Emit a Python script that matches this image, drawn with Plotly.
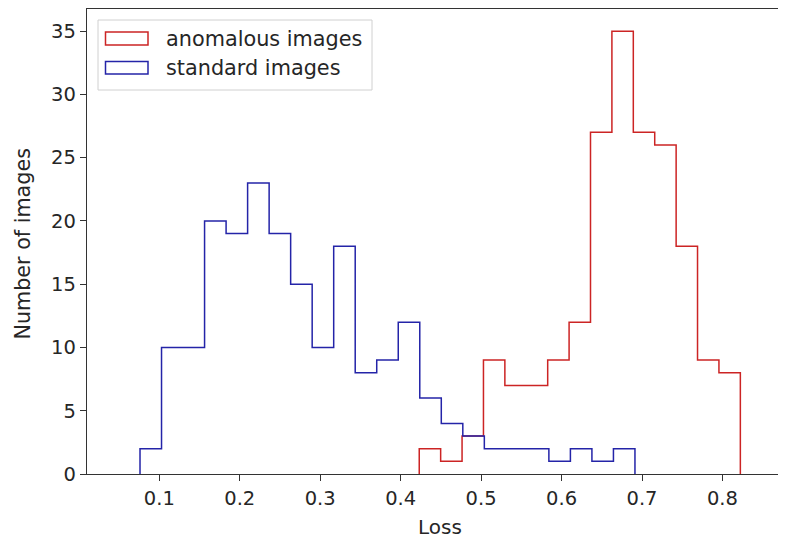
import plotly.graph_objects as go

# ---- data ----
red_label = "anomalous images"
red_counts = [2, 1, 3, 9, 7, 7, 9, 12, 27, 35, 27, 26, 18, 9, 8]
red_start = 0.4231
red_width = 0.02661

blue_label = "standard images"
blue_counts = [2, 10, 10, 20, 19, 23, 19, 15, 10, 18, 8, 9, 12, 6, 4, 3, 2, 2, 2, 1, 2, 1, 2]
blue_start = 0.0760
blue_width = 0.02675

x_ticks = [0.1, 0.2, 0.3, 0.4, 0.5, 0.6, 0.7, 0.8]
y_ticks = [0, 5, 10, 15, 20, 25, 30, 35]
x_title = "Loss"
y_title = "Number of images"

RED = "#cc2424"
BLUE = "#2424a8"
FONT = "DejaVu Sans"
TXT = "#262626"


def step_outline(start, width, counts):
    edges = [start + width * i for i in range(len(counts) + 1)]
    xs = [edges[0]] + edges[:len(counts)] + [edges[-1]]
    ys = [0] + list(counts) + [0]
    return xs, ys


fig = go.Figure()
for start, width, counts, color, name in [
    (red_start, red_width, red_counts, RED, red_label),
    (blue_start, blue_width, blue_counts, BLUE, blue_label),
]:
    xs, ys = step_outline(start, width, counts)
    fig.add_trace(go.Scatter(x=xs, y=ys, mode="lines", name=name,
                             line=dict(color=color, width=1.5, shape="hv"),
                             showlegend=False, hoverinfo="skip"))

# The page body has an 8px margin, so the figure is made 8px smaller on
# each axis and everything is placed relative to the window (reference) pixels.
OFF = 8
WIN_W, WIN_H = 786, 541
W, H = WIN_W - OFF, WIN_H - OFF
# plot area in window pixels
PX_L, PX_R, PX_T, PX_B = 87, 786, 9, 474
L, R, T, B = PX_L - OFF, WIN_W - PX_R, PX_T - OFF, WIN_H - PX_B
pw, ph = PX_R - PX_L, PX_B - PX_T


def px2x(px):
    return (px - PX_L) / pw


def px2y(py):
    return (PX_B - py) / ph


axis_common = dict(showline=True, linecolor="#333333", linewidth=1.3,
                   ticks="outside", ticklen=6, tickwidth=1.3, tickcolor="#333333",
                   showgrid=False, zeroline=False, automargin=False,
                   tickfont=dict(family=FONT, size=19.5, color=TXT))

fig.update_layout(
    width=W, height=H,
    margin=dict(l=L, r=R, t=T, b=B, autoexpand=False),
    plot_bgcolor="white", paper_bgcolor="white",
    showlegend=False,
    xaxis=dict(range=[0.0101, 0.879], tickvals=x_ticks, tickformat=".1f",
               mirror=True, **axis_common),
    yaxis=dict(range=[0, 36.75], tickvals=y_ticks, **axis_common),
)

# axis titles
fig.add_annotation(text=x_title, xref="paper", yref="paper",
                   x=px2x(439.5), y=px2y(527), xanchor="center", yanchor="middle",
                   showarrow=False, font=dict(family=FONT, size=20, color=TXT))
fig.add_annotation(text=y_title, xref="paper", yref="paper", textangle=-90,
                   x=px2x(22.5), y=px2y(244), xanchor="center", yanchor="middle",
                   showarrow=False, font=dict(family=FONT, size=20.7, color=TXT))

# ---- legend drawn like matplotlib's (frame, outlined patches, labels) ----
shapes = [
    dict(type="rect", xref="paper", yref="paper",
         x0=px2x(98), x1=px2x(372), y0=px2y(90), y1=px2y(20),
         line=dict(color="#d0d0d0", width=1), fillcolor="rgba(255,255,255,0.8)",
         layer="above"),
    dict(type="rect", xref="paper", yref="paper",
         x0=px2x(105.5), x1=px2x(148), y0=px2y(45), y1=px2y(32),
         line=dict(color=RED, width=1.5), fillcolor="white", layer="above"),
    dict(type="rect", xref="paper", yref="paper",
         x0=px2x(105.5), x1=px2x(148), y0=px2y(74), y1=px2y(61.5),
         line=dict(color=BLUE, width=1.5), fillcolor="white", layer="above"),
]
fig.update_layout(shapes=shapes)
for label, py in [(red_label, 39), (blue_label, 68.5)]:
    fig.add_annotation(text=label, xref="paper", yref="paper",
                       x=px2x(164), y=px2y(py), xanchor="left", yanchor="middle",
                       showarrow=False, font=dict(family=FONT, size=20.8, color=TXT))

fig.write_html("out.html",
               post_script="document.documentElement.style.overflow='hidden';"
                           "document.body.style.overflow='hidden';")
